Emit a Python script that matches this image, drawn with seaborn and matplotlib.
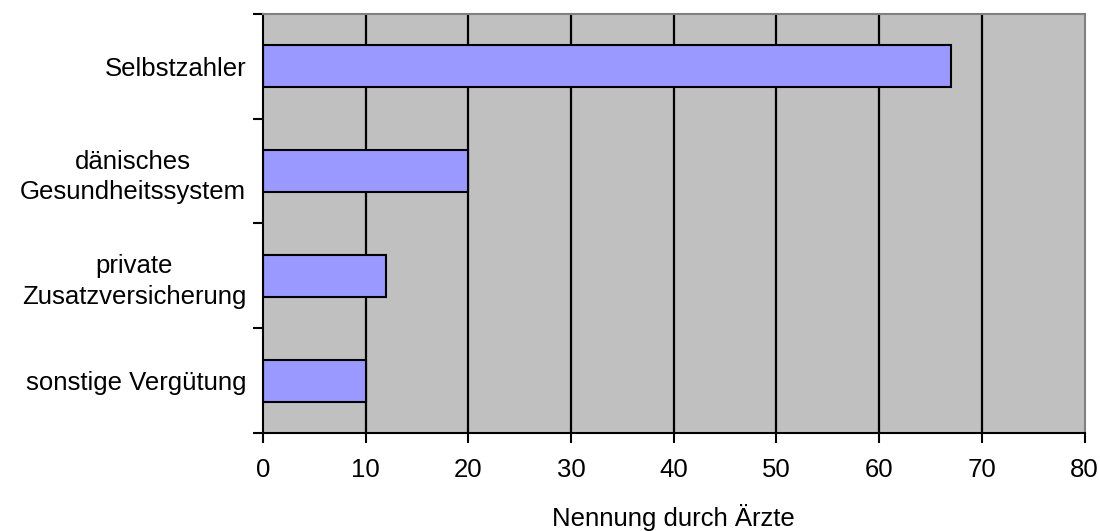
import numpy as np
import pandas as pd
import seaborn as sns
import matplotlib.pyplot as plt

# Data
categories = ['Selbstzahler', 'dänisches\nGesundheitssystem', 'private\nZusatzversicherung', 'sonstige Vergütung']
values = [67, 20, 12, 10]
x_ticks = [0, 10, 20, 30, 40, 50, 60, 70, 80]

df = pd.DataFrame({'kategorie': categories, 'nennungen': values})

sns.set_style('white')
plt.rcParams['font.family'] = ['Liberation Sans', 'DejaVu Sans']
plt.rcParams['text.color'] = 'black'
plt.rcParams['xtick.color'] = 'black'
plt.rcParams['ytick.color'] = 'black'
plt.rcParams['axes.labelcolor'] = 'black'

fs = 18.5

fig = plt.figure(figsize=(11, 5.31), dpi=100)
ax = fig.add_axes([0.239, 0.1846, 0.747, 0.789])
ax.set_facecolor('#C0C0C0')

# vertical grid lines behind bars
for xv in x_ticks[1:-1]:
    ax.axvline(xv, color='black', linewidth=1.6, zorder=1)

sns.barplot(data=df, x='nennungen', y='kategorie', orient='h', width=0.4,
            color='#9999FF', saturation=1, edgecolor='black', linewidth=1.5,
            ax=ax, zorder=2)

ax.set_xlim(0, 80)
ax.set_ylim(len(categories) - 0.5, -0.5)
ax.set_xticks(x_ticks)
ax.set_xticklabels([str(t) for t in x_ticks], fontsize=fs)

# category labels centred, tick marks on band boundaries
ax.set_yticks(np.arange(len(categories)))
ax.set_yticklabels(categories, fontsize=fs, multialignment='center', linespacing=1.35)
ax.set_yticks(np.arange(len(categories) + 1) - 0.5, minor=True)
ax.tick_params(axis='y', which='major', length=0, pad=12)
ax.tick_params(axis='y', which='minor', length=7, width=1.5, color='black', left=True)
ax.tick_params(axis='x', which='major', length=7, width=1.5, color='black', bottom=True, pad=11)

ax.set_xlabel('Nennung durch Ärzte', fontsize=fs, labelpad=16)
ax.set_ylabel('')

for side in ['left', 'bottom']:
    ax.spines[side].set_color('black')
    ax.spines[side].set_linewidth(1.5)
for side in ['top', 'right']:
    ax.spines[side].set_color('#808080')
    ax.spines[side].set_linewidth(1.5)

fig.savefig('out.png', dpi=100)
